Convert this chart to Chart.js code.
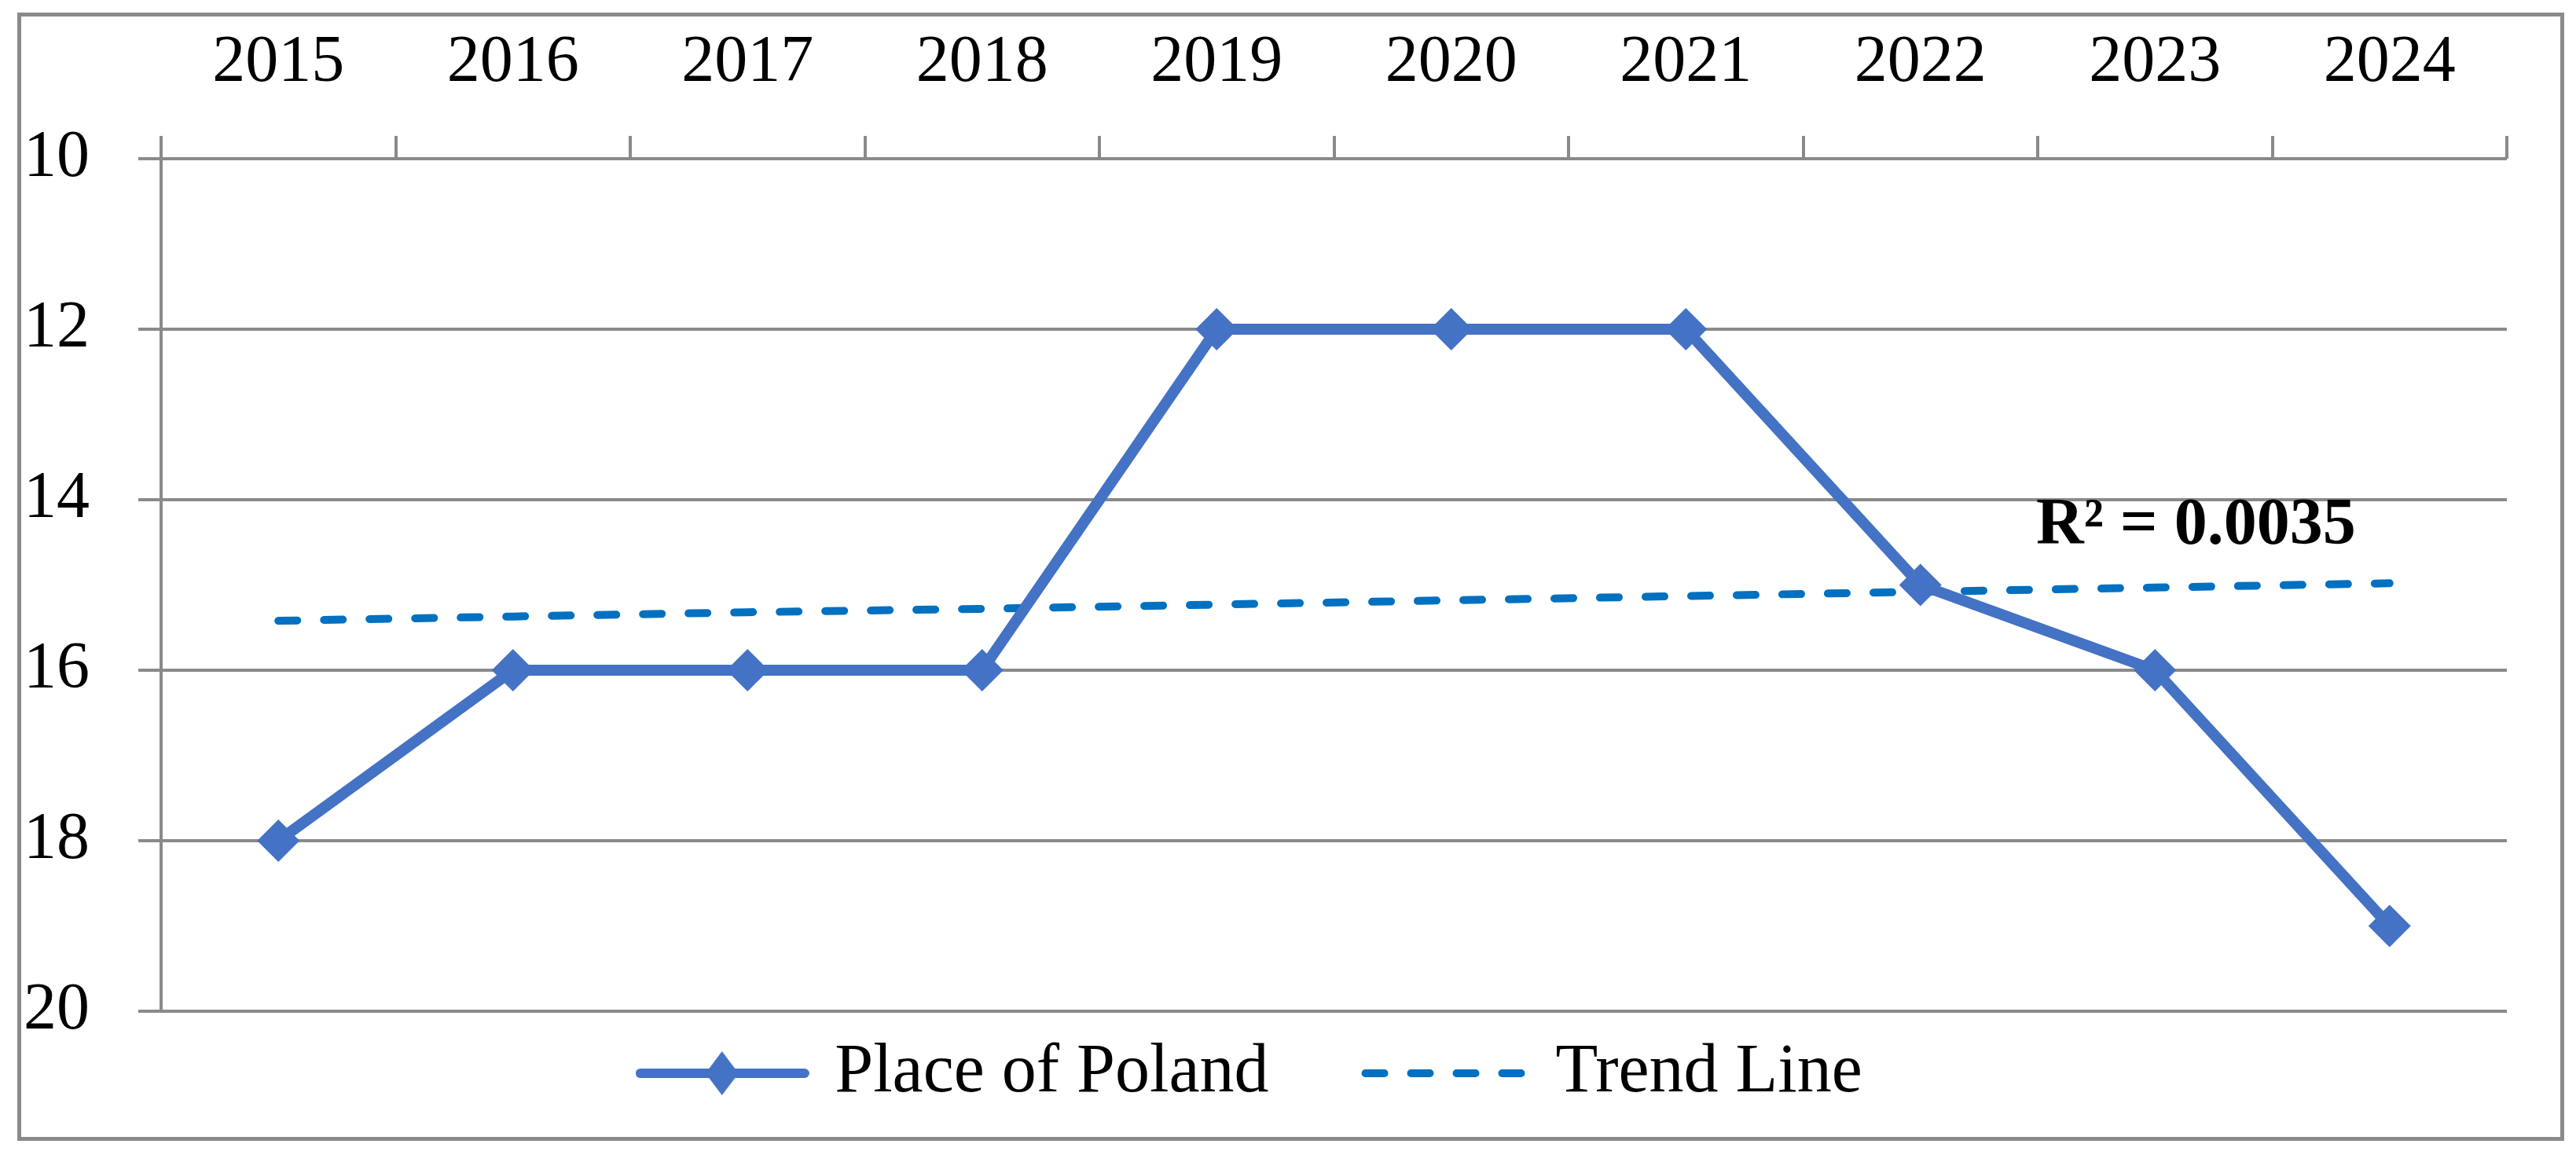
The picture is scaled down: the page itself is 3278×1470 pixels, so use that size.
<!DOCTYPE html>
<html lang="en">

<head>
    <meta charset="UTF-8">
    <title>Place of Poland</title>
    <script src="https://cdn.jsdelivr.net/npm/chart.js"></script>
    <style>
        body {
            margin: 0;
            background: #fff;
            overflow: hidden;
        }

        .moldura {
            position: absolute;
            left: 22px;
            top: 16px;
            width: 3241px;
            height: 1436px;
            box-sizing: border-box;
            border: 5px solid #8a8a8a;
            pointer-events: none;
        }

        #grafico {
            position: absolute;
            left: 0;
            top: 0;
        }
    </style>
</head>

<body>
    <canvas id="grafico" width="3278" height="1470"></canvas>
    <div class="moldura"></div>
    <script>
        // data
        const anos = ['2015', '2016', '2017', '2018', '2019', '2020', '2021', '2022', '2023', '2024'];
        const lugarPolonia = [18, 16, 16, 16, 12, 12, 12, 15, 16, 19];
        const linhaTendencia = [15.42, 15.37, 15.32, 15.28, 15.23, 15.18, 15.13, 15.08, 15.03, 14.98];
        const ticksY = [10, 12, 14, 16, 18, 20];
        const textoR2 = 'R\u00B2 = 0.0035';

        const corPolonia = '#4472C4';
        const corTendencia = '#0070C0';
        const corGrade = '#8a8a8a';

        Chart.defaults.font.family = '"Liberation Serif", "Times New Roman", serif';
        Chart.defaults.color = '#000';

        // legend swatch: line with a diamond in the middle
        const iconePolonia = document.createElement('canvas');
        iconePolonia.width = 221;
        iconePolonia.height = 60;
        const ic = iconePolonia.getContext('2d');
        ic.strokeStyle = corPolonia;
        ic.fillStyle = corPolonia;
        ic.lineWidth = 12;
        ic.lineCap = 'round';
        ic.beginPath();
        ic.moveTo(6, 30);
        ic.lineTo(215, 30);
        ic.stroke();
        ic.beginPath();
        ic.moveTo(110, 2);
        ic.lineTo(131, 30);
        ic.lineTo(110, 58);
        ic.lineTo(89, 30);
        ic.closePath();
        ic.fill();

        const rotuloR2 = {
            id: 'rotuloR2',
            afterDraw(chart) {
                const c = chart.ctx;
                c.save();
                c.font = 'bold 84px "Liberation Serif"';
                c.fillStyle = '#000';
                c.textBaseline = 'alphabetic';
                c.fillText(textoR2, 2591, 692);
                c.restore();
            }
        };

        const ctx = document.getElementById('grafico').getContext('2d');
        const grafico = new Chart(ctx, {
            type: 'line',
            data: {
                labels: anos,
                datasets: [{
                    label: 'Place of Poland',
                    data: lugarPolonia,
                    borderColor: corPolonia,
                    backgroundColor: corPolonia,
                    borderWidth: 14,
                    pointStyle: 'rectRot',
                    pointRadius: 27,
                    pointHoverRadius: 27,
                    pointBorderWidth: 0,
                    pointBackgroundColor: corPolonia,
                    tension: 0,
                    fill: false
                }, {
                    label: 'Trend Line',
                    data: linhaTendencia,
                    borderColor: corTendencia,
                    borderWidth: 10,
                    borderDash: [24, 34],
                    borderCapStyle: 'round',
                    pointRadius: 0,
                    tension: 0,
                    fill: false
                }]
            },
            options: {
                responsive: false,
                animation: false,
                layout: {
                    padding: { left: 0, right: 88, top: 0, bottom: 50 }
                },
                plugins: {
                    tooltip: { enabled: false },
                    legend: {
                        position: 'bottom',
                        labels: {
                            usePointStyle: true,
                            pointStyleWidth: 198,
                            padding: 35,
                            font: { size: 88 },
                            color: '#000',
                            generateLabels: function (chart) {
                                const itens = Chart.defaults.plugins.legend.labels.generateLabels(chart);
                                itens[0].pointStyle = iconePolonia;
                                itens[0].text = 'Place of Poland    ';
                                itens[1].pointStyle = 'line';
                                itens[1].strokeStyle = corTendencia;
                                itens[1].lineWidth = 10;
                                itens[1].lineDash = [24, 34];
                                itens[1].lineCap = 'round';
                                return itens;
                            }
                        }
                    }
                },
                scales: {
                    x: {
                        position: 'top',
                        offset: true,
                        afterFit: function (escala) { escala.height = 202; },
                        grid: {
                            offset: true,
                            drawOnChartArea: false,
                            drawTicks: true,
                            tickLength: 29,
                            color: corGrade,
                            lineWidth: 4
                        },
                        border: { display: false },
                        ticks: {
                            autoSkip: false,
                            maxRotation: 0,
                            padding: 50,
                            font: { size: 84, lineHeight: 1 }
                        }
                    },
                    y: {
                        reverse: true,
                        min: 10,
                        max: 20,
                        afterFit: function (escala) { escala.width = 205; },
                        afterBuildTicks: function (escala) {
                            escala.ticks = ticksY.map(v => ({ value: v }));
                        },
                        grid: {
                            color: corGrade,
                            lineWidth: 4,
                            tickLength: 29
                        },
                        border: { display: true, color: corGrade, width: 4 },
                        ticks: {
                            padding: 62,
                            font: { size: 84 }
                        }
                    }
                }
            },
            plugins: [rotuloR2]
        });
    </script>
</body>

</html>
